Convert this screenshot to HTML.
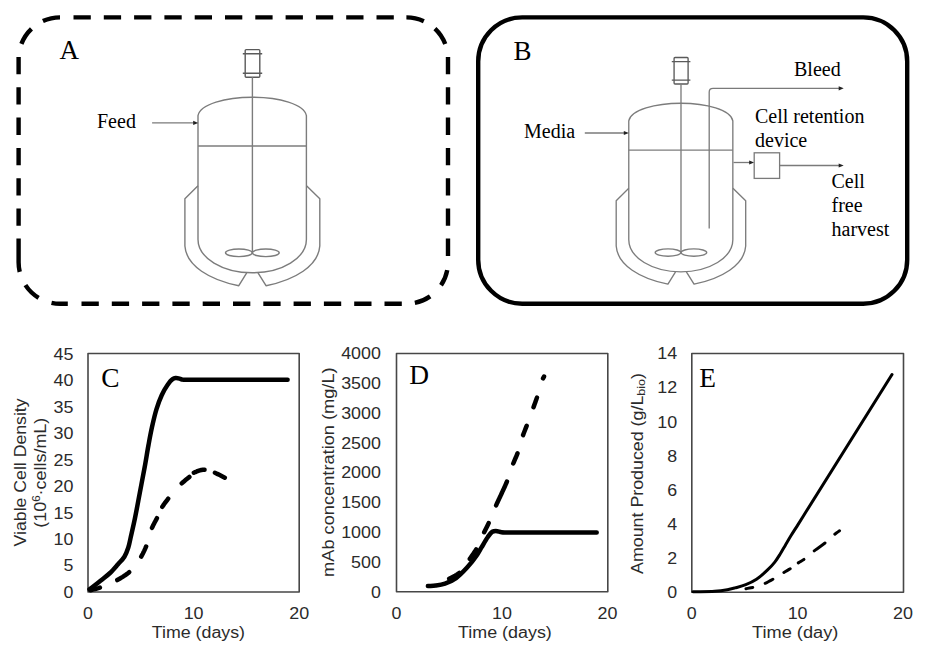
<!DOCTYPE html>
<html><head><meta charset="utf-8"><style>
html,body{margin:0;padding:0;background:#fff;width:939px;height:651px;overflow:hidden;}
svg{display:block;}
</style></head><body>
<svg width="939" height="651" viewBox="0 0 939 651">
<rect x="0" y="0" width="939" height="651" fill="#fff"/>
<path d="M73.50,17.40 H90.80 M103.80,17.40 H121.10 M134.10,17.40 H151.40 M164.40,17.40 H181.70 M194.70,17.40 H212.00 M225.00,17.40 H242.30 M255.30,17.40 H272.60 M285.60,17.40 H302.90 M315.90,17.40 H333.20 M346.20,17.40 H363.50 M376.50,17.40 H393.80 M81.50,303.80 H98.80 M111.80,303.80 H129.10 M142.10,303.80 H159.40 M172.40,303.80 H189.70 M202.70,303.80 H220.00 M233.00,303.80 H250.30 M263.30,303.80 H280.60 M293.60,303.80 H310.90 M323.90,303.80 H341.20 M354.20,303.80 H371.50 M384.50,303.80 H401.80 M18.60,57.00 V74.30 M448.00,57.00 V74.30 M18.60,87.30 V104.60 M448.00,87.30 V104.60 M18.60,117.60 V134.90 M448.00,117.60 V134.90 M18.60,147.90 V165.20 M448.00,147.90 V165.20 M18.60,178.20 V195.50 M448.00,178.20 V195.50 M18.60,208.50 V225.80 M448.00,208.50 V225.80 M448.00,238.60 V256.00 M18.60,238.60 V262.30 M18.60,262.30 A41.50,41.50 0 0 0 19.72,271.88 M21.41,43.89 A41.50,41.50 0 0 1 31.46,28.87 M42.92,21.12 A41.50,41.50 0 0 1 60.00,17.40 M406.40,17.40 A41.50,41.50 0 0 1 423.83,21.19 M434.92,28.66 A41.50,41.50 0 0 1 445.24,44.01 M25.43,285.10 A41.50,41.50 0 0 0 38.60,297.79 M51.52,302.90 A41.50,41.50 0 0 0 60.00,303.80 M60,303.80 H67.8 M447.26,270.10 A41.50,41.50 0 0 1 441.03,285.32 M430.15,296.40 A41.50,41.50 0 0 1 414.85,302.95 " fill="none" stroke="#000" stroke-width="4.4"/>
<path d="M478.2,61.4 A44.0,44.0 0 0 1 522.2,17.4 L863.2,17.4 A44.0,44.0 0 0 1 907.2,61.4 L907.2,259.7 A44.0,44.0 0 0 1 863.2,303.7 L522.2,303.7 A44.0,44.0 0 0 1 478.2,259.7 Z" fill="none" stroke="#000" stroke-width="4.4"/>
<g><rect x="245.2" y="49.6" width="14.6" height="27.6" rx="1" fill="none" stroke-width="1.4" stroke-linejoin="round" stroke="#5a5a5a"/>
<path d="M242.8,53.8 H262.2 M242.8,73.2 H262.2" fill="none" stroke-width="1.4" stroke-linejoin="round" stroke="#5a5a5a"/>
<path d="M252.4,77.2 V252.8" fill="none" stroke="#7c7c7c" stroke-width="1.4" stroke-linejoin="round"/>
<path d="M198,239.5 V115.6 C200,104 226,97.2 252.3,97.2 C278.6,97.2 304.4,104 306.4,115.6 V239.5 C306.4,258 282,272.8 252.3,272.8 C222.6,272.8 198,258 198,239.5 Z" fill="none" stroke="#7c7c7c" stroke-width="1.4" stroke-linejoin="round"/>
<path d="M198,146 H306.4" fill="none" stroke="#7c7c7c" stroke-width="1.4" stroke-linejoin="round"/>
<path d="M198,185.8 L184.9,198.7 V246 C186.3,266 210,280 238.8,285.7 L246.7,272.8" fill="none" stroke="#7c7c7c" stroke-width="1.4" stroke-linejoin="round"/>
<path d="M306.5,185.8 L319.8,198.7 V246 C318.4,266 294.6,280 266,285.7 L258,272.8" fill="none" stroke="#7c7c7c" stroke-width="1.4" stroke-linejoin="round"/>
<ellipse cx="238.9" cy="252.8" rx="13.4" ry="3.8" fill="none" stroke="#7c7c7c" stroke-width="1.4" stroke-linejoin="round"/>
<ellipse cx="265.8" cy="252.8" rx="13.4" ry="3.8" fill="none" stroke="#7c7c7c" stroke-width="1.4" stroke-linejoin="round"/></g>
<path d="M152.1,122.9 H194.2" fill="none" stroke="#7a7a7a" stroke-width="1.3"/><path d="M198.2,122.9 L193.2,120.8 L193.2,125.0 Z" fill="#222"/>
<text x="97" y="127.7" font-size="20" font-family="Liberation Serif, serif">Feed</text>
<text x="59.4" y="59.4" font-size="27" font-family="Liberation Serif, serif">A</text>
<g transform="translate(438.69,9.91) scale(0.960)"><rect x="245.2" y="49.6" width="14.6" height="27.6" rx="1" fill="none" stroke-width="1.4" stroke-linejoin="round" stroke="#5a5a5a"/>
<path d="M242.8,53.8 H262.2 M242.8,73.2 H262.2" fill="none" stroke-width="1.4" stroke-linejoin="round" stroke="#5a5a5a"/>
<path d="M252.4,77.2 V252.8" fill="none" stroke="#7c7c7c" stroke-width="1.4" stroke-linejoin="round"/>
<path d="M198,239.5 V115.6 C200,104 226,97.2 252.3,97.2 C278.6,97.2 304.4,104 306.4,115.6 V239.5 C306.4,258 282,272.8 252.3,272.8 C222.6,272.8 198,258 198,239.5 Z" fill="none" stroke="#7c7c7c" stroke-width="1.4" stroke-linejoin="round"/>
<path d="M198,146 H306.4" fill="none" stroke="#7c7c7c" stroke-width="1.4" stroke-linejoin="round"/>
<path d="M198,185.8 L184.9,198.7 V246 C186.3,266 210,280 238.8,285.7 L246.7,272.8" fill="none" stroke="#7c7c7c" stroke-width="1.4" stroke-linejoin="round"/>
<path d="M306.5,185.8 L319.8,198.7 V246 C318.4,266 294.6,280 266,285.7 L258,272.8" fill="none" stroke="#7c7c7c" stroke-width="1.4" stroke-linejoin="round"/>
<ellipse cx="238.9" cy="252.8" rx="13.4" ry="3.8" fill="none" stroke="#7c7c7c" stroke-width="1.4" stroke-linejoin="round"/>
<ellipse cx="265.8" cy="252.8" rx="13.4" ry="3.8" fill="none" stroke="#7c7c7c" stroke-width="1.4" stroke-linejoin="round"/></g>
<text x="513.6" y="60" font-size="27" font-family="Liberation Serif, serif">B</text>
<path d="M584.8,133.0 H624.8" fill="none" stroke="#7a7a7a" stroke-width="1.3"/><path d="M628.8,133.0 L623.8,130.9 L623.8,135.1 Z" fill="#222"/>
<text x="524" y="138.1" font-size="20" font-family="Liberation Serif, serif">Media</text>
<path d="M709.2,228.4 V92 Q709.2,88.3 713,88.3 H839" fill="none" stroke="#7a7a7a" stroke-width="1.3"/>
<path d="M843.7,88.3 L838.7,86.2 L838.7,90.4 Z" fill="#222"/>
<text x="794" y="75.8" font-size="20" font-family="Liberation Serif, serif">Bleed</text>
<text x="755" y="123.1" font-size="20" font-family="Liberation Serif, serif">Cell retention</text>
<text x="755" y="146.8" font-size="20" font-family="Liberation Serif, serif">device</text>
<path d="M733.5,162.5 H750.2" fill="none" stroke="#7a7a7a" stroke-width="1.3"/><path d="M754.2,162.5 L749.2,160.4 L749.2,164.6 Z" fill="#222"/>
<rect x="754.2" y="152.8" width="25.4" height="25.6" fill="none" stroke="#7a7a7a" stroke-width="1.3"/>
<path d="M779.6,165.5 H839.7" fill="none" stroke="#7a7a7a" stroke-width="1.3"/><path d="M843.7,165.5 L838.7,163.4 L838.7,167.6 Z" fill="#222"/>
<text x="831.5" y="187.7" font-size="20" font-family="Liberation Serif, serif">Cell</text>
<text x="831.5" y="211.9" font-size="20" font-family="Liberation Serif, serif">free</text>
<text x="831.5" y="236.1" font-size="20" font-family="Liberation Serif, serif">harvest</text>
<rect x="88.0" y="353.5" width="211.2" height="238.5" fill="none" stroke="#474747" stroke-width="1.6" stroke-linejoin="round"/>
<text x="73.4" y="597.8" font-size="16" text-anchor="end" textLength="9.9" lengthAdjust="spacingAndGlyphs" font-family="Liberation Sans, sans-serif" fill="#2b2b2b">0</text>
<text x="73.4" y="571.4" font-size="16" text-anchor="end" textLength="9.9" lengthAdjust="spacingAndGlyphs" font-family="Liberation Sans, sans-serif" fill="#2b2b2b">5</text>
<text x="73.4" y="544.9" font-size="16" text-anchor="end" textLength="19.9" lengthAdjust="spacingAndGlyphs" font-family="Liberation Sans, sans-serif" fill="#2b2b2b">10</text>
<text x="73.4" y="518.5" font-size="16" text-anchor="end" textLength="19.9" lengthAdjust="spacingAndGlyphs" font-family="Liberation Sans, sans-serif" fill="#2b2b2b">15</text>
<text x="73.4" y="492.0" font-size="16" text-anchor="end" textLength="19.9" lengthAdjust="spacingAndGlyphs" font-family="Liberation Sans, sans-serif" fill="#2b2b2b">20</text>
<text x="73.4" y="465.6" font-size="16" text-anchor="end" textLength="19.9" lengthAdjust="spacingAndGlyphs" font-family="Liberation Sans, sans-serif" fill="#2b2b2b">25</text>
<text x="73.4" y="439.1" font-size="16" text-anchor="end" textLength="19.9" lengthAdjust="spacingAndGlyphs" font-family="Liberation Sans, sans-serif" fill="#2b2b2b">30</text>
<text x="73.4" y="412.7" font-size="16" text-anchor="end" textLength="19.9" lengthAdjust="spacingAndGlyphs" font-family="Liberation Sans, sans-serif" fill="#2b2b2b">35</text>
<text x="73.4" y="386.2" font-size="16" text-anchor="end" textLength="19.9" lengthAdjust="spacingAndGlyphs" font-family="Liberation Sans, sans-serif" fill="#2b2b2b">40</text>
<text x="73.4" y="359.8" font-size="16" text-anchor="end" textLength="19.9" lengthAdjust="spacingAndGlyphs" font-family="Liberation Sans, sans-serif" fill="#2b2b2b">45</text>
<text x="88.0" y="618.8" font-size="16" text-anchor="middle" textLength="9.9" lengthAdjust="spacingAndGlyphs" font-family="Liberation Sans, sans-serif" fill="#2b2b2b">0</text>
<text x="193.6" y="618.8" font-size="16" text-anchor="middle" textLength="19.9" lengthAdjust="spacingAndGlyphs" font-family="Liberation Sans, sans-serif" fill="#2b2b2b">10</text>
<text x="299.2" y="618.8" font-size="16" text-anchor="middle" textLength="19.9" lengthAdjust="spacingAndGlyphs" font-family="Liberation Sans, sans-serif" fill="#2b2b2b">20</text>
<text x="101.3" y="386.9" font-size="27.4" font-family="Liberation Serif, serif">C</text>
<text x="151.8" y="637.8" font-size="16" textLength="93.2" lengthAdjust="spacingAndGlyphs" font-family="Liberation Sans, sans-serif" fill="#2b2b2b">Time (days)</text>
<text transform="translate(25.6,546.4) rotate(-90)" x="0" y="0" font-size="16.4" textLength="148.0" lengthAdjust="spacingAndGlyphs" font-family="Liberation Sans, sans-serif" fill="#2b2b2b">Viable Cell Density</text>
<text transform="translate(46.3,527.7) rotate(-90)" x="0" y="0" font-size="16.4" textLength="110.0" lengthAdjust="spacingAndGlyphs" font-family="Liberation Sans, sans-serif" fill="#2b2b2b">(10<tspan font-size="10.5" dy="-6">6</tspan><tspan dy="6">·cells/mL)</tspan></text>
<path d="M89.50,589.30 C93.63,586.10 98.23,582.64 101.90,579.70 C104.91,577.29 107.41,575.46 110.00,573.00 C112.72,570.42 115.34,567.30 117.80,564.50 C120.12,561.87 122.65,559.55 124.40,556.70 C126.14,553.88 127.23,550.79 128.30,547.50 C129.47,543.93 130.03,540.24 131.00,536.00 C132.19,530.78 133.58,524.90 134.90,518.50 C136.50,510.76 138.17,501.38 139.80,492.80 C141.43,484.21 143.20,475.26 144.70,467.00 C146.08,459.38 147.23,451.90 148.50,445.00 C149.63,438.85 150.60,433.46 151.90,427.60 C153.25,421.53 154.74,414.86 156.50,409.20 C158.06,404.19 159.74,399.52 161.70,395.30 C163.45,391.54 165.47,387.86 167.50,385.00 C169.14,382.69 171.01,380.30 172.60,379.20 C173.61,378.50 174.43,378.23 175.50,378.10 C176.73,377.95 178.38,378.31 179.60,378.60 C180.64,378.85 181.39,379.40 182.40,379.60 C183.51,379.82 184.77,379.77 186.00,379.80 C187.30,379.84 188.67,379.80 190.00,379.80 L287.6,379.8" fill="none" stroke="#000" stroke-linecap="round" stroke-linejoin="round" stroke-width="4.5"/>
<path d="M90.43,590.22 L92.02,589.79 L93.60,589.38 L95.18,588.96 L96.76,588.52 L98.33,588.07 L99.90,587.58M117.28,580.03 L118.66,579.26 L120.03,578.47 L121.39,577.66 L122.74,576.83 L124.07,575.97 L125.38,575.08 L126.67,574.16 L127.93,573.20 L129.16,572.20M141.22,556.56 L142.01,555.16 L142.77,553.75 L143.50,552.32 L144.20,550.88 L144.87,549.42 L145.52,547.95 L146.13,546.47M151.99,527.84 L152.64,526.44 L153.32,525.05 L154.02,523.68 L154.74,522.31 L155.47,520.95 L156.19,519.58 L156.91,518.22M162.33,506.76 L163.24,505.37 L164.18,504.01 L165.16,502.66 L166.15,501.34 L167.16,500.02 L168.18,498.71M181.71,483.36 L182.95,482.25 L184.23,481.17 L185.52,480.11 L186.81,479.06 L188.10,478.00 L189.38,476.92M193.85,472.78 L195.30,472.09 L196.78,471.47 L198.28,470.90 L199.80,470.40 L201.35,469.98 L202.94,469.74 L204.54,469.85M214.97,472.78 L216.39,473.43 L217.81,474.12 L219.21,474.82 L220.61,475.54 L222.00,476.26 L223.39,476.98 L224.79,477.70" fill="none" stroke="#000" stroke-linecap="round" stroke-linejoin="round" stroke-width="4.5"/>
<rect x="396.5" y="353.5" width="211.3" height="238.3" fill="none" stroke="#474747" stroke-width="1.6" stroke-linejoin="round"/>
<text x="380.9" y="597.6" font-size="16" text-anchor="end" textLength="9.9" lengthAdjust="spacingAndGlyphs" font-family="Liberation Sans, sans-serif" fill="#2b2b2b">0</text>
<text x="380.9" y="567.8" font-size="16" text-anchor="end" textLength="29.8" lengthAdjust="spacingAndGlyphs" font-family="Liberation Sans, sans-serif" fill="#2b2b2b">500</text>
<text x="380.9" y="538.0" font-size="16" text-anchor="end" textLength="39.7" lengthAdjust="spacingAndGlyphs" font-family="Liberation Sans, sans-serif" fill="#2b2b2b">1000</text>
<text x="380.9" y="508.2" font-size="16" text-anchor="end" textLength="39.7" lengthAdjust="spacingAndGlyphs" font-family="Liberation Sans, sans-serif" fill="#2b2b2b">1500</text>
<text x="380.9" y="478.4" font-size="16" text-anchor="end" textLength="39.7" lengthAdjust="spacingAndGlyphs" font-family="Liberation Sans, sans-serif" fill="#2b2b2b">2000</text>
<text x="380.9" y="448.6" font-size="16" text-anchor="end" textLength="39.7" lengthAdjust="spacingAndGlyphs" font-family="Liberation Sans, sans-serif" fill="#2b2b2b">2500</text>
<text x="380.9" y="418.8" font-size="16" text-anchor="end" textLength="39.7" lengthAdjust="spacingAndGlyphs" font-family="Liberation Sans, sans-serif" fill="#2b2b2b">3000</text>
<text x="380.9" y="389.0" font-size="16" text-anchor="end" textLength="39.7" lengthAdjust="spacingAndGlyphs" font-family="Liberation Sans, sans-serif" fill="#2b2b2b">3500</text>
<text x="380.9" y="359.2" font-size="16" text-anchor="end" textLength="39.7" lengthAdjust="spacingAndGlyphs" font-family="Liberation Sans, sans-serif" fill="#2b2b2b">4000</text>
<text x="396.5" y="618.8" font-size="16" text-anchor="middle" textLength="9.9" lengthAdjust="spacingAndGlyphs" font-family="Liberation Sans, sans-serif" fill="#2b2b2b">0</text>
<text x="502.0" y="618.8" font-size="16" text-anchor="middle" textLength="19.9" lengthAdjust="spacingAndGlyphs" font-family="Liberation Sans, sans-serif" fill="#2b2b2b">10</text>
<text x="607.5" y="618.8" font-size="16" text-anchor="middle" textLength="19.9" lengthAdjust="spacingAndGlyphs" font-family="Liberation Sans, sans-serif" fill="#2b2b2b">20</text>
<text x="409.3" y="384.0" font-size="27.4" font-family="Liberation Serif, serif">D</text>
<text x="458" y="638.4" font-size="16" textLength="93.8" lengthAdjust="spacingAndGlyphs" font-family="Liberation Sans, sans-serif" fill="#2b2b2b">Time (days)</text>
<text transform="translate(333.8,576.9) rotate(-90)" x="0" y="0" font-size="16.4" textLength="209.5" lengthAdjust="spacingAndGlyphs" font-family="Liberation Sans, sans-serif" fill="#2b2b2b">mAb concentration (mg/L)</text>
<path d="M427.90,586.10 C430.50,585.93 433.00,585.96 435.70,585.60 C438.68,585.20 441.84,584.80 445.00,583.70 C448.62,582.44 452.58,580.58 456.10,578.10 C459.99,575.35 463.69,571.32 467.10,567.60 C470.49,563.89 473.96,559.48 476.50,555.80 C478.55,552.84 479.74,550.33 481.50,547.40 C483.45,544.16 485.68,540.00 487.70,537.20 C489.26,535.04 490.69,532.77 492.30,531.80 C493.46,531.10 494.57,531.01 495.90,531.00 C497.56,530.99 499.73,531.97 501.50,532.20 C503.07,532.40 504.39,532.36 506.00,532.40 C507.86,532.44 510.00,532.40 512.00,532.40 L596.7,532.4" fill="none" stroke="#000" stroke-linecap="round" stroke-linejoin="round" stroke-width="4.5"/>
<path d="M449.20,578.77 L450.68,578.02 L452.15,577.27 L453.62,576.49 L455.07,575.69 L456.50,574.84 L457.89,573.94 L459.23,572.96M469.83,558.82 L470.77,557.49 L471.71,556.16 L472.64,554.82 L473.56,553.48 L474.47,552.12 L475.35,550.75 L476.20,549.36M484.17,532.27 L484.92,530.75 L485.67,529.23 L486.43,527.71 L487.18,526.19 L487.92,524.67 L488.65,523.14M496.12,505.35 L496.75,503.95 L497.39,502.55 L498.03,501.15 L498.67,499.76 L499.32,498.37 L499.97,496.97 L500.62,495.58 L501.27,494.19 L501.92,492.79 L502.56,491.40 L503.20,490.00 L503.84,488.61 L504.48,487.21 L505.10,485.80 L505.72,484.40 L506.33,482.99 L506.92,481.57M513.25,463.52 L513.84,462.07 L514.45,460.62 L515.07,459.18 L515.69,457.74 L516.31,456.30 L516.91,454.85 L517.48,453.39M523.09,435.10 L523.66,433.55 L524.25,432.01 L524.85,430.48 L525.46,428.95 L526.06,427.42 L526.66,425.88M533.51,407.21 L534.09,405.61 L534.67,404.01 L535.25,402.42 L535.82,400.82 L536.38,399.21 L536.93,397.61M543.04,378.36 L544.03,376.57" fill="none" stroke="#000" stroke-linecap="round" stroke-linejoin="round" stroke-width="4.5"/>
<rect x="691.8" y="353.5" width="211.7" height="238.7" fill="none" stroke="#474747" stroke-width="1.6" stroke-linejoin="round"/>
<text x="677.2" y="598.1" font-size="16" text-anchor="end" textLength="9.9" lengthAdjust="spacingAndGlyphs" font-family="Liberation Sans, sans-serif" fill="#2b2b2b">0</text>
<text x="677.2" y="564.0" font-size="16" text-anchor="end" textLength="9.9" lengthAdjust="spacingAndGlyphs" font-family="Liberation Sans, sans-serif" fill="#2b2b2b">2</text>
<text x="677.2" y="529.9" font-size="16" text-anchor="end" textLength="9.9" lengthAdjust="spacingAndGlyphs" font-family="Liberation Sans, sans-serif" fill="#2b2b2b">4</text>
<text x="677.2" y="495.7" font-size="16" text-anchor="end" textLength="9.9" lengthAdjust="spacingAndGlyphs" font-family="Liberation Sans, sans-serif" fill="#2b2b2b">6</text>
<text x="677.2" y="461.6" font-size="16" text-anchor="end" textLength="9.9" lengthAdjust="spacingAndGlyphs" font-family="Liberation Sans, sans-serif" fill="#2b2b2b">8</text>
<text x="677.2" y="427.5" font-size="16" text-anchor="end" textLength="19.9" lengthAdjust="spacingAndGlyphs" font-family="Liberation Sans, sans-serif" fill="#2b2b2b">10</text>
<text x="677.2" y="393.4" font-size="16" text-anchor="end" textLength="19.9" lengthAdjust="spacingAndGlyphs" font-family="Liberation Sans, sans-serif" fill="#2b2b2b">12</text>
<text x="677.2" y="359.3" font-size="16" text-anchor="end" textLength="19.9" lengthAdjust="spacingAndGlyphs" font-family="Liberation Sans, sans-serif" fill="#2b2b2b">14</text>
<text x="691.8" y="618.8" font-size="16" text-anchor="middle" textLength="9.9" lengthAdjust="spacingAndGlyphs" font-family="Liberation Sans, sans-serif" fill="#2b2b2b">0</text>
<text x="797.6" y="618.8" font-size="16" text-anchor="middle" textLength="19.9" lengthAdjust="spacingAndGlyphs" font-family="Liberation Sans, sans-serif" fill="#2b2b2b">10</text>
<text x="903.0" y="618.8" font-size="16" text-anchor="middle" textLength="19.9" lengthAdjust="spacingAndGlyphs" font-family="Liberation Sans, sans-serif" fill="#2b2b2b">20</text>
<text x="699.2" y="386.6" font-size="27.4" font-family="Liberation Serif, serif">E</text>
<text x="752.1" y="638.4" font-size="16" textLength="86.2" lengthAdjust="spacingAndGlyphs" font-family="Liberation Sans, sans-serif" fill="#2b2b2b">Time (day)</text>
<text transform="translate(642.6,574.0) rotate(-90)" x="0" y="0" font-size="16.4" textLength="201.0" lengthAdjust="spacingAndGlyphs" font-family="Liberation Sans, sans-serif" fill="#2b2b2b">Amount Produced (g/L<tspan font-size="11.5" dy="2.8">bio</tspan><tspan dy="-2.8">)</tspan></text>
<path d="M693.00,591.70 C700.20,591.57 708.36,591.75 714.60,591.30 C719.40,590.95 723.61,590.36 727.30,589.70 C730.20,589.18 732.23,588.63 735.00,587.90 C738.31,587.02 742.27,586.10 745.80,584.70 C749.44,583.26 753.05,581.58 756.50,579.30 C760.24,576.83 764.11,573.24 767.30,570.20 C770.12,567.51 772.60,564.89 774.80,562.10 C776.87,559.48 778.45,556.81 780.20,554.00 C782.02,551.08 783.72,547.93 785.50,544.90 C787.29,541.86 788.95,538.98 790.90,535.80 C793.08,532.24 795.57,528.46 798.00,524.60 C800.59,520.48 803.33,516.07 806.00,511.80 L892,374.5" fill="none" stroke="#000" stroke-linecap="round" stroke-linejoin="round" stroke-width="3"/>
<path d="M745.98,588.66 L747.67,588.37 L749.37,588.08 L751.06,587.76 L752.74,587.41M765.19,583.28 L766.76,582.54 L768.31,581.75 L769.84,580.94 L771.36,580.10 L772.87,579.24M783.91,572.43 L785.49,571.50 L787.07,570.59 L788.65,569.66 L790.21,568.71M798.29,562.89 L799.70,562.03 L801.13,561.19 L802.54,560.34 L803.94,559.45M814.23,550.90 L815.56,549.90 L816.91,548.92 L818.26,547.95 L819.62,546.98 L820.98,546.01 L822.33,545.03 L823.67,544.03 L824.99,543.02M834.81,534.19 L836.37,533.02 L837.96,531.89 L839.55,530.76" fill="none" stroke="#000" stroke-linecap="round" stroke-linejoin="round" stroke-width="3"/>
</svg></body></html>
